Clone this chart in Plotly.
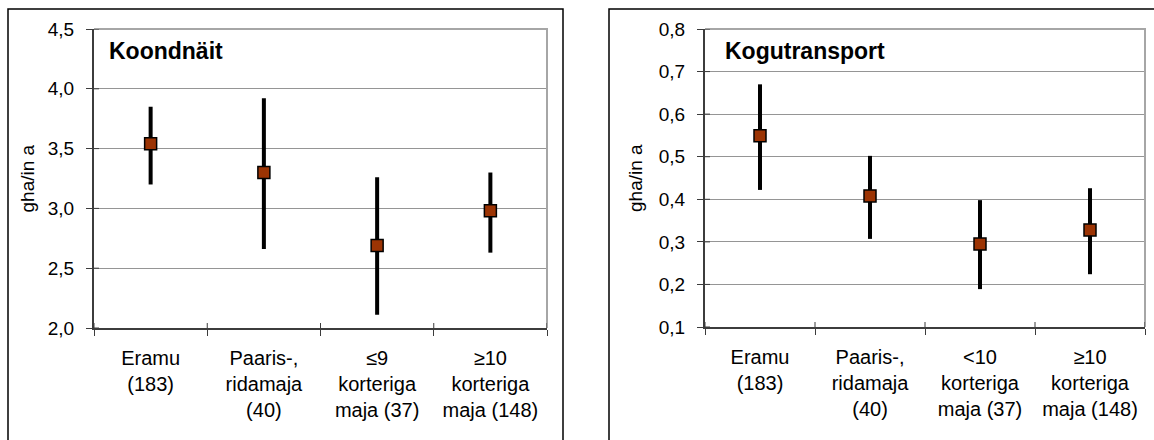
import plotly.graph_objects as go

W, H = 1154, 440

# Koondnäit (total footprint), gha per inhabitant per year
left_title = "Koondnäit"
left_categories = ["Eramu<br>(183)", "Paaris-,<br>ridamaja<br>(40)",
                   "≤9<br>korteriga<br>maja (37)", "≥10<br>korteriga<br>maja (148)"]
left_mean = [3.54, 3.30, 2.69, 2.98]
left_low = [3.20, 2.66, 2.11, 2.63]
left_high = [3.85, 3.92, 3.26, 3.30]
left_ticks = [2.0, 2.5, 3.0, 3.5, 4.0, 4.5]

# Kogutransport (total transport)
right_title = "Kogutransport"
right_categories = ["Eramu<br>(183)", "Paaris-,<br>ridamaja<br>(40)",
                    "&lt;10<br>korteriga<br>maja (37)", "≥10<br>korteriga<br>maja (148)"]
right_mean = [0.549, 0.408, 0.295, 0.328]
right_low = [0.422, 0.307, 0.189, 0.224]
right_high = [0.670, 0.502, 0.398, 0.426]
right_ticks = [0.1, 0.2, 0.3, 0.4, 0.5, 0.6, 0.7, 0.8]

y_title = "gha/in a"

FONT = "Liberation Sans, Arial, sans-serif"
MARKER_FILL = "#9C3404"
GRID = "#959595"
AXIS = "#3C3C3C"
FRAME = "#A6A6A6"


def px_x(v):
    return v / W


def px_y(v):
    return 1 - v / H


panels = [
    dict(x="x", y="y", xa="xaxis", ya="yaxis", cats=left_categories, mean=left_mean,
         low=left_low, high=left_high, ticks=left_ticks, title=left_title,
         dom_x=(px_x(94), px_x(547)), dom_y=(px_y(328), px_y(29)),
         box=(px_x(8), px_x(563)), title_x=px_x(107), ytitle_x=px_x(27)),
    dict(x="x2", y="y2", xa="xaxis2", ya="yaxis2", cats=right_categories, mean=right_mean,
         low=right_low, high=right_high, ticks=right_ticks, title=right_title,
         dom_x=(px_x(705), px_x(1145)), dom_y=(px_y(327), px_y(29)),
         box=(px_x(609), 1.02), title_x=px_x(723), ytitle_x=px_x(635)),
]

fig = go.Figure()
shapes = []
annotations = []
layout_axes = {}

for p in panels:
    fig.add_trace(go.Scatter(
        x=p["cats"], y=p["mean"], xaxis=p["x"], yaxis=p["y"],
        mode="markers",
        marker=dict(symbol="square", size=12, color=MARKER_FILL,
                    line=dict(color="black", width=1.5)),
        error_y=dict(type="data", symmetric=False,
                     array=[h - m for h, m in zip(p["high"], p["mean"])],
                     arrayminus=[m - l for m, l in zip(p["mean"], p["low"])],
                     color="black", thickness=4, width=0),
        showlegend=False, hoverinfo="skip",
    ))

    ymin, ymax = p["ticks"][0], p["ticks"][-1]
    layout_axes[p["xa"]] = dict(
        domain=list(p["dom_x"]), anchor=p["y"], type="category",
        range=[-0.5, len(p["cats"]) - 0.5], tickson="boundaries",
        ticks="outside", ticklen=6, tickcolor=AXIS, tickwidth=1,
        ticklabelstandoff=11, automargin=False,
        showgrid=False, showline=True, linecolor=AXIS, linewidth=2,
        tickfont=dict(family=FONT, size=20, color="black"),
        zeroline=False, fixedrange=True,
    )
    layout_axes[p["ya"]] = dict(
        domain=list(p["dom_y"]), anchor=p["x"], range=[ymin, ymax],
        tickmode="array", tickvals=p["ticks"], tickformat=".1f",
        ticks="outside", ticklen=6, tickcolor=AXIS, tickwidth=1,
        ticklabelstandoff=8, automargin=False,
        showgrid=True, gridcolor=GRID, gridwidth=1,
        showline=True, linecolor=AXIS, linewidth=2,
        tickfont=dict(family=FONT, size=19, color="black"),
        zeroline=False, fixedrange=True,
    )

    x0, x1 = p["dom_x"]
    y0, y1 = p["dom_y"]
    # outer chart frame
    shapes.append(dict(type="rect", xref="paper", yref="paper",
                       x0=p["box"][0], x1=p["box"][1], y0=-0.02, y1=px_y(9),
                       line=dict(color="black", width=1.5), layer="below"))
    # light frame on the top and right of the plot area
    shapes.append(dict(type="path", xref="paper", yref="paper",
                       path=f"M {x0},{y1} L {x1},{y1} L {x1},{y0}",
                       line=dict(color=FRAME, width=2), layer="above"))
    # inner halves of the crossing tick marks
    for t in p["ticks"]:
        shapes.append(dict(type="line", xref="paper", yref=p["y"],
                           x0=x0, x1=x0 + 5 / W, y0=t, y1=t,
                           line=dict(color=AXIS, width=1)))
    for b in range(len(p["cats"]) + 1):
        shapes.append(dict(type="line", xref=p["x"], yref="paper",
                           x0=b - 0.5, x1=b - 0.5, y0=y0, y1=y0 + 5 / H,
                           line=dict(color=AXIS, width=1)))

    annotations.append(dict(text=f"<b>{p['title']}</b>", xref="paper", yref="paper",
                            x=p["title_x"], y=px_y(51), xanchor="left", yanchor="middle",
                            showarrow=False, font=dict(family=FONT, size=23, color="black")))
    annotations.append(dict(text=y_title, xref="paper", yref="paper", textangle=-90,
                            x=p["ytitle_x"], y=(y0 + y1) / 2, xanchor="center",
                            yanchor="middle", showarrow=False,
                            font=dict(family=FONT, size=19, color="black")))

fig.update_layout(
    width=W, height=H, margin=dict(l=0, r=0, t=0, b=0, pad=0),
    paper_bgcolor="white", plot_bgcolor="white",
    separators=", ",
    shapes=shapes, annotations=annotations,
    **layout_axes,
)

fig.write_html("out.html", config={"displayModeBar": False})
